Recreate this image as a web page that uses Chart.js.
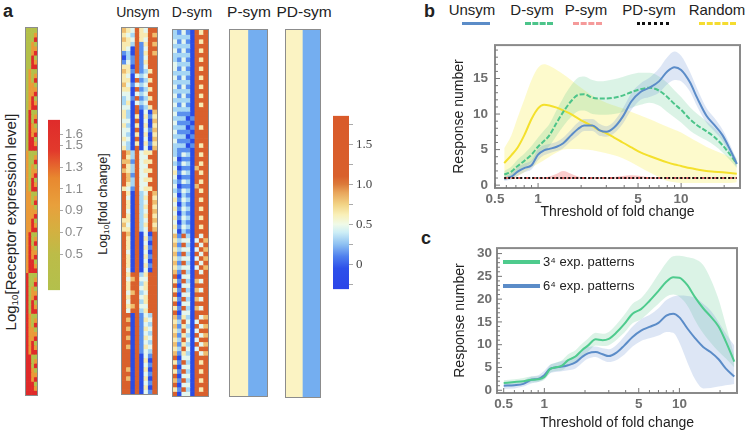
<!DOCTYPE html>
<html>
<head>
<meta charset="utf-8">
<script src="https://cdn.jsdelivr.net/npm/chart.js@4.4.0/dist/chart.umd.min.js"></script>
<style>
  body { margin: 0; background: #fff; font-family: "Liberation Sans", Arial, sans-serif; color: #222; }
  #fig { position: relative; width: 747px; height: 433px; overflow: hidden; }
  canvas { position: absolute; }
  canvas.hm { outline: 1px solid #8c8c8c; }
  .t { position: absolute; white-space: nowrap; line-height: 1; }
  .rot { transform: translate(-50%, -50%) rotate(-90deg); }
  .ctr { transform: translateX(-50%); }
  .ln { position: absolute; height: 0; }
  sub { font-size: 65%; vertical-align: -2px; }
</style>
</head>
<body>
<div id="fig">
  <div class="t" style="left:3px;top:2px;font-size:18px;font-weight:bold">a</div>
  <div class="t" style="left:424px;top:2px;font-size:18px;font-weight:bold">b</div>
  <div class="t" style="left:421px;top:229px;font-size:18px;font-weight:bold">c</div>

  <div class="t rot" style="left:11px;top:222px;font-size:15px">Log<sub>10</sub>[Receptor expression level]</div>
  <div class="t rot" style="left:104px;top:204px;font-size:12.5px">Log<sub>10</sub>[fold change]</div>

  <div class="t ctr" style="left:138px;top:5px;font-size:14px">Unsym</div>
  <div class="t ctr" style="left:192px;top:5px;font-size:14px">D-sym</div>
  <div class="t ctr" style="left:249px;top:4px;font-size:15.5px">P-sym</div>
  <div class="t ctr" style="left:304px;top:4px;font-size:15.5px">PD-sym</div>

  <canvas id="receptor" class="hm" width="11" height="367" style="left:26px;top:28px"></canvas>
  <canvas id="cb1" width="42" height="190" style="left:48px;top:110px"></canvas>
  <canvas id="unsym" class="hm" width="35" height="366" style="left:122px;top:28px"></canvas>
  <canvas id="dsym" class="hm" width="35" height="366" style="left:173px;top:30px"></canvas>
  <canvas id="psym" class="hm" width="37" height="366" style="left:230px;top:30px"></canvas>
  <canvas id="pdsym" class="hm" width="34" height="367" style="left:286px;top:30px"></canvas>
  <canvas id="cb2" width="45" height="195" style="left:333px;top:105px"></canvas>

  <!-- legend of panel b -->
  <div class="t ctr" style="left:472px;top:2px;font-size:15px">Unsym</div>
  <div class="t ctr" style="left:532px;top:2px;font-size:15px">D-sym</div>
  <div class="t ctr" style="left:586px;top:2px;font-size:15px">P-sym</div>
  <div class="t ctr" style="left:649px;top:2px;font-size:15px">PD-sym</div>
  <div class="t ctr" style="left:717px;top:2px;font-size:15px">Random</div>
  <div class="ln" style="left:462px;top:22px;width:28px;border-top:3px solid #5b8cc8"></div>
  <div class="ln" style="left:525px;top:22px;width:28px;border-top:3px dashed #4cc48a"></div>
  <div class="ln" style="left:573px;top:22px;width:29px;border-top:3px dashed #f59a9a"></div>
  <div class="ln" style="left:637px;top:22px;width:32px;border-top:3px dotted #111"></div>
  <div class="ln" style="left:699px;top:22px;width:37px;border-top:3px dashed #f5dc30"></div>

  <canvas id="chartB" width="307" height="200" style="left:440px;top:30px"></canvas>
  <canvas id="chartC" width="307" height="198" style="left:440px;top:235px"></canvas>

  <!-- legend of panel c -->
  <div class="ln" style="left:503px;top:260px;width:37px;border-top:4px solid #4ecb8d"></div>
  <div class="t" style="left:543px;top:255px;font-size:13px">3⁴ exp. patterns</div>
  <div class="ln" style="left:503px;top:284px;width:37px;border-top:4px solid #5b8cc8"></div>
  <div class="t" style="left:543px;top:279px;font-size:13px">6⁴ exp. patterns</div>
</div>

<script>
// ---------- heatmap data (one string per column, one digit per row) ----------
const strip = s => s.replace(/\s+/g, '');

// receptor expression level: 0 = low, 1 = mid, 2 = high
const receptorCol0 = strip("000000000000000000000000000 111111111111111111111111111 222222222222222222222222222");
const receptorCol1 = strip("000000000111111111222222222 000000000111111111222222222 000000000111111111222222222");
const receptorCol2 = strip("000111222000111222000111222 000111222000111222000111222 000111222000111222000111222");
const receptorCol3 = strip("012012012012012012012012012 012012012012012012012012012 012012012012012012012012012");

// fold change level: 0 = deep blue ... 6 = orange
const unsymCol0 = strip("545441014 544543223 443433434 665656664 666666454 666666666 666666666 666666666 666666666");
const unsymCol1 = strip("434432234 434343343 223232322 545445543 434434434 544434443 434434343 656565656 666565666");
const unsymCol2 = strip("323200110 100100100 000000000 221221221 000000000 000000000 656656656 000000000 000000000");
const unsymCol3 = strip("666666666 636363636 646464646 666666666 666666666 666666666 666666666 666666666 666666666");
const unsymCol4 = strip("444111111 121212121 000000000 333333333 222222222 000000000 232323232 111111111 000000000");
const unsymCol5 = strip("343434343 232323232 343434343 434343434 343434343 343434343 434434434 343434343 343434343");
const unsymCol6 = strip("666666666 464646464 010010010 464646464 666666666 010101010 666666666 232323232 101010101");
const unsymCol7 = strip("656565666 666666666 545454545 666666666 545454545 666666666 666666666 666666666 666666666");

const dsymCol0 = strip("223232233 232323232 323232322 232343232 343434343 545454545 646464646 545454545 646465646");
const dsymCol1 = strip("121212121 212121212 121212121 101010101 010101010 121212121 010101010 121212121 010101010");
const dsymCol2 = strip("323232323 232323232 121212121 313131313 232323232 636363636 363636363 464646464 363636363");
const dsymCol3 = strip("121212121 212121212 101010101 212121212 121212121 232323232 323232323 232323232 323232323");
const dsymCol4 = strip("000000000 000000000 010101010 000000000 000000000 000000000 000000000 000000000 000000000");
const dsymCol5 = strip("666666666 666666666 666666666 666566656 666666666 636363636 656565656 636363636 666666666");
const dsymCol6 = strip("464646464 646464646 666466646 464646464 646464646 363636363 636363636 363636363 646464646");
const dsymCol7 = strip("666666666 666666666 666666666 666666666 666666666 656565656 666666666 565656565 666666666");

// P-sym / PD-sym: two uniform columns (7 = pale yellow, 8 = blue)
const psymCols = ["7", "8"];
const pdsymCols = ["7", "8"];

// colour bars
const cb1Ticks = [0.5, 0.7, 0.9, 1.1, 1.3, 1.5, 1.6];
const cb2Ticks = [-0.25, 0, 0.25, 0.5, 0.75, 1, 1.25, 1.5, 1.75];

// ---------- panel b ----------
const xB = [0.58, 0.65, 0.72, 0.8, 0.9, 1.0, 1.1, 1.2, 1.35, 1.5, 1.7, 1.9, 2.1, 2.4, 2.7, 3.0,
            3.4, 3.9, 4.5, 5.2, 6.0, 7.0, 8.0, 9.0, 10, 11.5, 13, 15, 17, 19.5, 22, 24.5];
const unsymB   = [0.9, 1.2, 1.9, 2.4, 2.8, 4.3, 4.9, 5.1, 5.4, 5.9, 7.0, 7.9, 8.4, 8.4, 7.7, 7.5,
                  8.1, 9.6, 11.8, 13.1, 13.7, 14.6, 16.0, 16.6, 16.2, 14.5, 12.2, 9.8, 8.5, 7.0, 5.0, 3.0];
const unsymBLo = [0.6, 0.8, 1.3, 1.8, 2.2, 3.5, 4.2, 4.5, 4.8, 5.2, 6.2, 7.0, 7.6, 7.6, 6.9, 6.8,
                  7.3, 8.6, 10.6, 12.0, 12.4, 13.0, 14.2, 14.8, 14.6, 13.2, 11.0, 8.8, 7.6, 6.2, 4.3, 2.5];
const unsymBHi = [1.2, 1.7, 2.5, 3.0, 3.5, 5.1, 5.6, 5.8, 6.1, 6.7, 7.8, 8.8, 9.3, 9.3, 8.6, 8.3,
                  9.0, 10.7, 13.0, 14.3, 15.1, 16.4, 18.0, 18.8, 18.2, 16.0, 13.5, 10.9, 9.5, 7.8, 5.7, 3.5];
const dsymB   = [1.5, 1.9, 2.7, 3.4, 4.3, 5.4, 6.2, 7.0, 8.8, 10.3, 11.8, 12.7, 12.8, 12.3, 12.2, 12.2,
                 12.3, 12.6, 13.1, 13.5, 13.7, 13.3, 12.4, 11.4, 10.6, 9.3, 8.4, 7.6, 6.8, 5.6, 4.3, 3.0];
const dsymBLo = [1.0, 1.3, 1.9, 2.5, 3.2, 4.2, 4.8, 5.5, 7.0, 8.3, 9.6, 10.4, 10.5, 10.0, 9.9, 9.9,
                 10.0, 10.3, 10.9, 11.3, 11.6, 11.2, 10.3, 9.5, 8.8, 7.7, 7.0, 6.3, 5.6, 4.6, 3.5, 2.4];
const dsymBHi = [2.0, 2.6, 3.6, 4.4, 5.5, 6.7, 7.7, 8.6, 10.6, 12.3, 14.0, 15.1, 15.3, 14.8, 14.6, 14.7,
                 14.9, 15.2, 15.6, 15.8, 15.8, 15.3, 14.4, 13.3, 12.4, 11.0, 10.0, 9.0, 8.1, 6.7, 5.2, 3.7];
const psymB   = [1, 1, 1, 1, 1, 1, 1, 1, 1, 1, 1, 1, 1, 1, 1, 1, 1, 1, 1, 1, 1, 1, 1, 1, 1, 1, 1, 1, 1, 1, 1, 1];
const psymBLo = [1, 1, 1, 1, 1, 1, 0.95, 0.9, 0.85, 0.8, 0.85, 0.9, 0.95, 1, 1, 0.95,
                 0.9, 0.85, 0.85, 0.9, 0.95, 1, 1, 1, 1, 1, 1, 1, 1, 1, 1, 1];
const psymBHi = [1, 1, 1, 1, 1, 1, 1.05, 1.2, 1.6, 2.0, 1.6, 1.2, 1.05, 1, 1, 1.05,
                 1.15, 1.3, 1.4, 1.3, 1.1, 1, 1, 1, 1, 1, 1, 1, 1, 1, 1, 1];
const pdsymB  = [1, 1, 1, 1, 1, 1, 1, 1, 1, 1, 1, 1, 1, 1, 1, 1, 1, 1, 1, 1, 1, 1, 1, 1, 1, 1, 1, 1, 1, 1, 1, 1];
const randomB   = [3.1, 4.2, 5.3, 7.0, 9.3, 10.8, 11.3, 11.2, 10.9, 10.5, 10.0, 9.4, 8.9, 8.3, 7.7, 7.3,
                   6.7, 6.0, 5.3, 4.6, 4.1, 3.6, 3.2, 2.9, 2.7, 2.4, 2.2, 2.0, 1.9, 1.8, 1.7, 1.6];
const randomBLo = [0.7, 1.0, 1.3, 1.8, 2.5, 3.0, 3.5, 4.0, 4.6, 5.0, 5.1, 5.1, 5.0, 4.9, 4.7, 4.5,
                   4.2, 3.8, 3.2, 2.5, 1.8, 1.1, 0.6, 0.4, 0.3, 0.3, 0.3, 0.3, 0.3, 0.3, 0.3, 0.4];
const randomBHi = [5.2, 7.0, 9.5, 12.0, 14.8, 16.5, 17.0, 16.8, 16.2, 15.6, 14.8, 14.0, 13.4, 12.6, 12.0, 11.6,
                   11.2, 10.8, 10.3, 9.8, 9.3, 8.7, 8.2, 7.8, 7.4, 6.7, 6.1, 5.4, 4.9, 4.4, 3.9, 3.6];

// ---------- panel c ----------
const xC = [0.5, 0.6, 0.7, 0.8, 0.9, 1.0, 1.1, 1.2, 1.35, 1.5, 1.7, 1.9, 2.1, 2.4, 2.7, 3.0,
            3.4, 3.9, 4.5, 5.2, 6.0, 7.0, 8.0, 9.0, 10, 11.5, 13, 15, 17, 19.5, 22, 25.5];
const pat3C   = [1.6, 1.8, 2.0, 2.3, 2.4, 2.9, 4.6, 5.0, 5.4, 6.6, 7.4, 8.8, 9.8, 11.2, 11.0, 11.3,
                 12.6, 14.5, 16.8, 17.8, 19.6, 21.8, 23.8, 24.8, 24.7, 23.0, 20.5, 18.0, 16.2, 14.0, 10.8, 6.3];
const pat3CLo = [1.0, 1.2, 1.4, 1.7, 1.8, 2.3, 3.8, 4.2, 4.4, 5.4, 6.1, 7.5, 8.4, 9.8, 9.7, 9.9,
                 11.0, 12.6, 14.7, 15.6, 17.2, 19.0, 20.5, 21.0, 20.5, 18.5, 15.5, 12.5, 10.5, 8.5, 7.0, 5.0];
const pat3CHi = [2.2, 2.4, 2.7, 3.0, 3.1, 3.6, 5.5, 6.0, 6.6, 7.9, 8.8, 10.2, 11.3, 12.6, 12.4, 12.8,
                 14.4, 16.5, 19.0, 20.2, 22.5, 25.5, 28.0, 29.4, 29.5, 29.2, 28.8, 27.5, 24.5, 20.0, 14.5, 7.6];
const pat6C   = [1.0, 1.1, 1.4, 2.3, 2.5, 3.3, 4.7, 5.0, 5.2, 5.5, 6.1, 7.3, 8.1, 8.4, 7.9, 7.5,
                 8.2, 9.8, 11.7, 13.1, 13.9, 14.8, 16.4, 16.8, 16.0, 13.5, 11.5, 9.5, 8.4, 6.8, 4.8, 3.0];
const pat6CLo = [0.3, 0.4, 0.8, 1.5, 1.8, 2.5, 3.7, 4.0, 4.2, 4.4, 4.8, 6.0, 6.9, 7.3, 6.6, 6.2,
                 6.6, 7.8, 9.6, 10.8, 11.4, 12.0, 12.8, 12.6, 10.5, 6.0, 2.5, 0.4, 0.5, 0.8, 1.1, 1.4];
const pat6CHi = [1.6, 1.8, 2.1, 3.0, 3.3, 4.3, 5.6, 6.0, 6.4, 6.8, 7.7, 8.8, 9.5, 9.6, 9.2, 9.0,
                 9.9, 11.8, 14.0, 15.6, 16.5, 18.0, 19.8, 20.6, 20.8, 20.7, 20.3, 19.0, 17.5, 15.0, 12.5, 9.8];

// axis ticks
const xTicks = [0.5, 1, 5, 10];
const xMinor = [0.6, 0.7, 0.8, 0.9, 2, 3, 4, 6, 7, 8, 9, 20];
const yTicksB = [0, 5, 10, 15];
const yMinorB = [1, 2, 3, 4, 6, 7, 8, 9, 11, 12, 13, 14, 16, 17, 18, 19];
const yTicksC = [0, 5, 10, 15, 20, 25, 30];
const yMinorC = [1, 2, 3, 4, 6, 7, 8, 9, 11, 12, 13, 14, 16, 17, 18, 19, 21, 22, 23, 24, 26, 27, 28, 29];

// ---------- colours ----------
const heatPalette = ['#2a4ce6', '#5a90ee', '#a6d6f4', '#e4f6ee', '#f8eab0', '#efbd6e', '#d9602c', '#fbf3c3', '#74aef0'];
const receptorPalette = ['#b3c04a', '#ea9a38', '#e02a2a'];

const base = { responsive: false, animation: false, events: [] };
const noPlugins = { legend: { display: false }, tooltip: { enabled: false } };

// heatmap: one floating bar dataset per row, one bar per column
function heatmap(id, cols, palette) {
  const rows = cols[0].length;
  const datasets = [];
  for (let r = 0; r < rows; r++) {
    datasets.push({
      data: cols.map(() => [r, r + 1]),
      backgroundColor: cols.map(c => palette[+c[r]]),
      borderWidth: 0, barPercentage: 1, categoryPercentage: 1, grouped: false
    });
  }
  new Chart(document.getElementById(id), {
    type: 'bar',
    data: { labels: cols.map((c, i) => 'c' + i), datasets },
    options: {
      ...base, layout: { padding: 0 }, plugins: noPlugins,
      scales: { x: { display: false }, y: { display: false, min: 0, max: rows, reverse: true } }
    }
  });
}

heatmap('receptor', [receptorCol0, receptorCol1, receptorCol2, receptorCol3], receptorPalette);
heatmap('unsym', [unsymCol0, unsymCol1, unsymCol2, unsymCol3, unsymCol4, unsymCol5, unsymCol6, unsymCol7], heatPalette);
heatmap('dsym', [dsymCol0, dsymCol1, dsymCol2, dsymCol3, dsymCol4, dsymCol5, dsymCol6, dsymCol7], heatPalette);
heatmap('psym', psymCols, heatPalette);
heatmap('pdsym', pdsymCols, heatPalette);

// colour bar: one floating bar filled with a gradient along the y scale
function colorbar(id, min, max, stopVals, stopCols, ticks, fmt, o) {
  new Chart(document.getElementById(id), {
    type: 'bar',
    data: {
      labels: ['v'],
      datasets: [{
        data: [[min, max]],
        backgroundColor: ctx => {
          const ch = ctx.chart, y = ch.scales.y;
          if (!ch.chartArea || !y) return stopCols[0];
          const g = ch.ctx.createLinearGradient(0, y.getPixelForValue(min), 0, y.getPixelForValue(max));
          stopVals.forEach((v, i) => g.addColorStop((v - min) / (max - min), stopCols[i]));
          return g;
        },
        borderWidth: 0, barPercentage: 1, categoryPercentage: 1
      }]
    },
    options: {
      ...base, plugins: noPlugins,
      layout: { padding: { top: o.top, bottom: o.bottom, left: 0, right: 0 } },
      scales: {
        x: { display: false },
        y: {
          position: 'right', min, max,
          afterBuildTicks: s => { s.ticks = ticks.map(v => ({ value: v })); },
          afterFit: s => { s.width = o.width; },
          border: { display: false },
          grid: { drawOnChartArea: false, tickLength: o.tick, color: '#aaa' },
          ticks: { callback: fmt, color: o.color, font: o.font, padding: o.pad, autoSkip: false }
        }
      }
    }
  });
}

colorbar('cb1', 0.17, 1.735,
  [0.17, 0.5, 0.72, 0.95, 1.2, 1.45, 1.735],
  ['#b3c04c', '#bcbc48', '#d4b040', '#e8a03c', '#e8882f', '#e23a2c', '#df2b2b'],
  cb1Ticks, v => v.toFixed(1),
  { top: 8, bottom: 5, width: 30, tick: 3, pad: 2, color: '#8a8a8a', font: { family: 'Liberation Sans', size: 13 } });

colorbar('cb2', -0.31, 1.855,
  [-0.31, -0.05, 0.1, 0.25, 0.4, 0.5, 0.62, 0.75, 0.9, 1.0, 1.1, 1.855],
  ['#2a45e8', '#2d50ea', '#4f80ee', '#8dc0f2', '#cdeef6', '#f0fae8', '#f9f0b8', '#f2d384', '#e8a45a', '#dc7a3a', '#d9602c', '#d95a2a'],
  cb2Ticks, v => (v % 0.5 !== 0 ? '' : (v === 0 ? '0' : v.toFixed(1))),
  { top: 6, bottom: 7, width: 29, tick: 4, pad: 3, color: '#444', font: { family: 'Liberation Serif', size: 13 } });

// ---------- line charts ----------
const pts = (xs, ys) => xs.map((x, i) => ({ x, y: ys[i] }));

function band(xs, lo, hi, color) {
  return [
    { data: pts(xs, hi), borderWidth: 0, pointRadius: 0, fill: false, cubicInterpolationMode: 'monotone', order: 5 },
    { data: pts(xs, lo), borderWidth: 0, pointRadius: 0, fill: '-1', backgroundColor: color, cubicInterpolationMode: 'monotone', order: 5 }
  ];
}
function line(xs, ys, color, dash, order) {
  return { data: pts(xs, ys), borderColor: color, borderWidth: 2, borderDash: dash, pointRadius: 0,
           fill: false, cubicInterpolationMode: 'monotone', order };
}

// grey frame with inward ticks
const framePlugin = {
  id: 'frame',
  afterDraw(chart, args, opts) {
    const { ctx, chartArea: a, scales: { x, y } } = chart;
    ctx.save();
    ctx.strokeStyle = '#8a8a8a';
    ctx.lineWidth = 2;
    ctx.strokeRect(a.left, a.top, a.right - a.left, a.bottom - a.top);
    ctx.lineWidth = 1;
    ctx.strokeStyle = '#777';
    ctx.beginPath();
    const xt = (v, len) => { const p = x.getPixelForValue(v); ctx.moveTo(p, a.bottom); ctx.lineTo(p, a.bottom - len); };
    const yt = (v, len) => { const p = y.getPixelForValue(v); ctx.moveTo(a.left, p); ctx.lineTo(a.left + len, p); };
    opts.xMajor.forEach(v => xt(v, 5));
    opts.xMinor.forEach(v => xt(v, 3));
    opts.yMajor.forEach(v => yt(v, 5));
    opts.yMinor.forEach(v => yt(v, 3));
    ctx.stroke();
    ctx.restore();
  }
};

const tickFont = { family: 'Liberation Sans', size: 13.5, weight: 'bold' };
const titleFont = { family: 'Liberation Sans', size: 14 };

function lineOptions(o) {
  return {
    ...base,
    layout: { padding: { top: o.top, right: o.right, left: 0, bottom: 0 } },
    plugins: { ...noPlugins, frame: { xMajor: xTicks, xMinor, yMajor: o.yTicks, yMinor: o.yMinor } },
    scales: {
      x: {
        type: 'logarithmic', min: o.xmin, max: o.xmax,
        afterBuildTicks: s => { s.ticks = xTicks.map(v => ({ value: v })); },
        afterFit: s => { s.height = o.xh; },
        grid: { display: false, drawTicks: false }, border: { display: false },
        ticks: { callback: v => String(v), autoSkip: false, maxRotation: 0, padding: 3, color: '#6e6e6e', font: tickFont },
        title: { display: true, text: 'Threshold of fold change', color: '#222', font: titleFont, padding: { top: 0, bottom: o.xtp } }
      },
      y: {
        min: o.ymin, max: o.ymax,
        afterBuildTicks: s => { s.ticks = o.yTicks.map(v => ({ value: v })); },
        afterFit: s => { s.width = o.yw; },
        grid: { display: false, drawTicks: false }, border: { display: false },
        ticks: { padding: o.ypad, color: '#6e6e6e', font: tickFont },
        title: { display: true, text: 'Response number', color: '#222', font: titleFont, padding: { top: o.ytp, bottom: 0 } }
      }
    }
  };
}

new Chart(document.getElementById('chartB'), {
  type: 'line',
  data: {
    datasets: [
      line(xB, pdsymB, '#111', [2, 2], 0),
      line(xB, psymB, '#f07070', [4, 3], 1),
      line(xB, unsymB, '#5b8cc8', [], 1),
      line(xB, dsymB, '#4cc48a', [5, 2], 1),
      line(xB, randomB, '#f4e02c', [], 2),
      ...band(xB, psymBLo, psymBHi, 'rgba(240,110,110,0.35)'),
      ...band(xB, unsymBLo, unsymBHi, 'rgba(100,140,210,0.22)'),
      ...band(xB, dsymBLo, dsymBHi, 'rgba(90,200,140,0.22)'),
      ...band(xB, randomBLo, randomBHi, 'rgba(250,240,110,0.35)')
    ]
  },
  options: lineOptions({ top: 5, right: 7, xmin: 0.5, xmax: 25.8, xh: 42, xtp: 9.6,
                         ymin: -0.4, ymax: 19.7, yw: 55, ypad: 7, ytp: 11, yTicks: yTicksB, yMinor: yMinorB }),
  plugins: [framePlugin]
});

new Chart(document.getElementById('chartC'), {
  type: 'line',
  data: {
    datasets: [
      line(xC, pat3C, '#4ecb8d', [], 1),
      line(xC, pat6C, '#5b8cc8', [], 1),
      ...band(xC, pat6CLo, pat6CHi, 'rgba(100,140,210,0.22)'),
      ...band(xC, pat3CLo, pat3CHi, 'rgba(90,200,140,0.22)')
    ]
  },
  options: lineOptions({ top: 7, right: 10, xmin: 0.446, xmax: 26.7, xh: 40, xtp: 1.6,
                         ymin: -0.6, ymax: 31.2, yw: 57, ypad: 5, ytp: 12, yTicks: yTicksC, yMinor: yMinorC }),
  plugins: [framePlugin]
});
</script>
</body>
</html>
